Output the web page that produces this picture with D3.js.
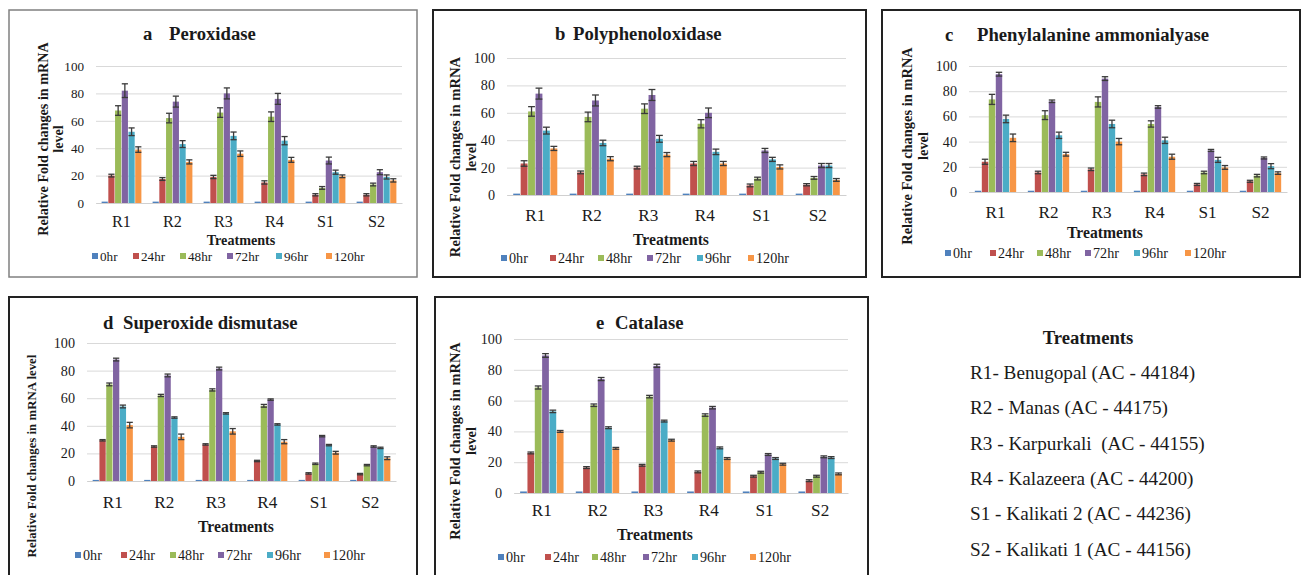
<!DOCTYPE html>
<html>
<head>
<meta charset="utf-8">
<script src="https://cdn.jsdelivr.net/npm/d3@7"></script>
<style>
  body { margin: 0; background: #fff; }
  svg text { font-family: "Liberation Serif", "Times New Roman", Tinos, "Noto Serif", "DejaVu Serif", serif; fill: #1a1a1a; }
</style>
</head>
<body>
<div id="chart"></div>
<script>
var svgWidth = 1307;
var svgHeight = 575;
var serif = "'Liberation Serif', 'Times New Roman', Tinos, 'Noto Serif', 'DejaVu Serif', serif";

var hours = ["0hr", "24hr", "48hr", "72hr", "96hr", "120hr"];
var treatments = ["R1", "R2", "R3", "R4", "S1", "S2"];
var yTicks = [0, 20, 40, 60, 80, 100];
var colors = ["#4F81BD", "#C0504D", "#9BBB59", "#8064A2", "#4BACC6", "#F79646"];

// values: one row per hour (0hr..120hr), columns R1..S2
var peroxidase = [
    [1, 1, 1, 1, 1, 1],
    [20, 17.5, 19, 15, 6, 6],
    [67.5, 62, 66, 63, 11, 13.5],
    [82, 74, 80, 76, 31, 22.5],
    [52, 43, 49, 45.5, 22.5, 19],
    [39, 30, 36, 31.5, 19.5, 16.5]
];
var peroxidaseErr = [
    [0, 0, 0, 0, 0, 0],
    [1, 1, 1.2, 1.2, 0.8, 0.8],
    [3.5, 3.5, 3.5, 3.5, 1, 1],
    [5, 4, 4, 4, 2.5, 1.8],
    [2.8, 2.5, 2.8, 3, 1.5, 1.5],
    [2, 1.5, 2, 1.8, 1, 1.2]
];

var polyphenoloxidase = [
    [1, 1, 1, 1, 1, 1],
    [23, 16.5, 20, 23, 7, 7.5],
    [61, 57, 63, 52, 12, 12.5],
    [74, 69, 73, 60, 32.5, 21.5],
    [47, 38, 41, 31.5, 26, 21.5],
    [34, 26.5, 29.5, 23, 20.5, 11]
];
var polyphenoloxidaseErr = [
    [0, 0, 0, 0, 0, 0],
    [2, 1, 1, 1.5, 1, 0.8],
    [3.5, 3.5, 3.5, 3, 1, 1],
    [4, 4, 4, 3.5, 1.5, 1.5],
    [2.5, 2, 2.5, 2, 1.5, 1.5],
    [1.5, 1.5, 1.5, 1.5, 1.5, 1]
];

var phenylalanine = [
    [1, 1, 1, 1, 1, 1],
    [24, 15.5, 18, 14, 6, 8.5],
    [73.5, 61, 71.5, 54, 15.5, 13],
    [93.5, 72, 90, 67.5, 33, 27],
    [58, 45, 54, 41, 25.5, 20.5],
    [43, 30, 40, 28, 19.5, 15]
];
var phenylalanineErr = [
    [0, 0, 0, 0, 0, 0],
    [2, 1, 1, 1, 0.8, 0.8],
    [4, 3.5, 4, 2.5, 1, 1],
    [1.5, 1, 1.5, 1, 0.8, 0.8],
    [3, 2.5, 3, 2.5, 2, 2],
    [3, 1.5, 2.5, 2, 1.5, 1]
];

var superoxide = [
    [0.8, 0.8, 0.8, 0.8, 0.8, 0.8],
    [29.5, 25, 26.5, 14.5, 5.5, 5],
    [70, 62, 66, 54.5, 12.5, 11.5],
    [88, 76.5, 81.5, 59, 32.5, 25],
    [54, 46, 49, 41, 26, 24],
    [40.5, 32, 36, 28.5, 20.5, 16.5]
];
var superoxideErr = [
    [0, 0, 0, 0, 0, 0],
    [0.5, 0.5, 0.5, 0.5, 0.5, 0.5],
    [1, 0.8, 0.8, 1, 0.5, 0.5],
    [1, 1, 1, 0.5, 0.5, 0.5],
    [1, 0.5, 0.5, 0.5, 0.5, 0.5],
    [2, 2, 2, 1.5, 1, 1]
];

var catalase = [
    [1, 1, 1, 1, 1, 1],
    [26, 16.5, 18, 13.7, 10.9, 8],
    [68.5, 57, 62.6, 50.6, 13.5, 10.9],
    [89.3, 74, 82.6, 55.4, 25, 23.5],
    [53, 42.4, 46.7, 29.3, 22.4, 23],
    [40, 29, 34.3, 22.4, 18.7, 12.4]
];
var catalaseErr = [
    [0, 0, 0, 0, 0, 0],
    [0.6, 0.6, 0.6, 0.6, 0.6, 0.6],
    [1, 0.8, 0.8, 0.8, 0.6, 0.6],
    [1.2, 1, 1, 0.8, 0.6, 0.6],
    [0.8, 0.6, 0.6, 0.6, 0.6, 0.6],
    [0.6, 0.6, 0.6, 0.6, 0.6, 0.6]
];

var treatmentNames = [
    "R1- Benugopal (AC - 44184)",
    "R2 - Manas (AC - 44175)",
    "R3 - Karpurkali\u00a0 (AC - 44155)",
    "R4 - Kalazeera (AC - 44200)",
    "S1 - Kalikati 2 (AC - 44236)",
    "S2 - Kalikati 1 (AC - 44156)"
];

var panels = [
    { letter: "a", name: "Peroxidase", values: peroxidase, errors: peroxidaseErr,
      box: [9, 10, 417, 277], boxColor: "#808080", boxWidth: 1.5,
      letterX: 143, nameX: 169, titleY: 33,
      x0: 96, x1: 402, yZero: 203, yTop: 66,
      yTickSize: 13, xTickSize: 16, xLabelY: 222,
      treatY: 240, treatX: 241, treatSize: 14,
      legendY: 256, legendX: [95, 136, 183, 230, 279, 329], legendSize: 13,
      yTitle: ["Relative Fold changes in mRNA", "level"], yTitleX: [43, 58], yTitleY: 139, yTitleSize: 14 },
    { letter: "b", name: "Polyphenoloxidase", values: polyphenoloxidase, errors: polyphenoloxidaseErr,
      box: [433, 10, 866, 277], boxColor: "#222", boxWidth: 2,
      letterX: 555, nameX: 573, titleY: 33,
      x0: 507, x1: 846, yZero: 195, yTop: 58,
      yTickSize: 14, xTickSize: 17, xLabelY: 215,
      treatY: 240, treatX: 671, treatSize: 15.5,
      legendY: 258, legendX: [504, 553, 601, 650, 700, 751], legendSize: 14,
      yTitle: ["Relative Fold changes in mRNA", "level"], yTitleX: [455, 471], yTitleY: 157, yTitleSize: 14.5 },
    { letter: "c", name: "Phenylalanine ammonialyase", values: phenylalanine, errors: phenylalanineErr,
      box: [882, 10, 1300, 277], boxColor: "#222", boxWidth: 2,
      letterX: 945, nameX: 977, titleY: 34,
      x0: 969, x1: 1287, yZero: 192, yTop: 66,
      yTickSize: 14, xTickSize: 17, xLabelY: 212,
      treatY: 233, treatX: 1105, treatSize: 15.5,
      legendY: 253, legendX: [948, 993, 1040, 1088, 1137, 1188], legendSize: 14,
      yTitle: ["Relative Fold changes in mRNA", "level"], yTitleX: [907, 923], yTitleY: 146, yTitleSize: 14.3 },
    { letter: "d", name: "Superoxide dismutase", values: superoxide, errors: superoxideErr,
      box: [9, 297, 417, 585], boxColor: "#222", boxWidth: 2,
      letterX: 103, nameX: 123, titleY: 322,
      x0: 87, x1: 396, yZero: 481, yTop: 343,
      yTickSize: 14, xTickSize: 17, xLabelY: 502,
      treatY: 527, treatX: 236, treatSize: 15.5,
      legendY: 555, legendX: [78, 124, 173, 221, 270, 327], legendSize: 14,
      yTitle: ["Relative Fold changes in mRNA level"], yTitleX: [31], yTitleY: 456, yTitleSize: 12.7 },
    { letter: "e", name: "Catalase", values: catalase, errors: catalaseErr,
      box: [435, 297, 868, 585], boxColor: "#222", boxWidth: 2,
      letterX: 596, nameX: 615, titleY: 322,
      x0: 514, x1: 848, yZero: 493, yTop: 339,
      yTickSize: 14, xTickSize: 17, xLabelY: 510,
      treatY: 535, treatX: 655, treatSize: 15.5,
      legendY: 557, legendX: [501, 548, 595, 646, 695, 753], legendSize: 14,
      yTitle: ["Relative Fold changes in mRNA", "level"], yTitleX: [455, 471], yTitleY: 441, yTitleSize: 14.3 }
];

var svg = d3.select("#chart")
    .append("svg")
    .attr("width", svgWidth)
    .attr("height", svgHeight);

// whatever serif face is installed, scale type so widths match Times metrics
var probe = svg.append("text")
    .style("font-size", "100px").style("font-weight", "bold")
    .text("Peroxidase");
var fs = 470 / probe.node().getComputedTextLength();   // Times bold "Peroxidase" = 4.70em
probe.remove();
fs = Math.min(1.05, Math.max(0.75, fs));
function px(s) { return (s * fs) + "px"; }

panels.forEach(function(p) {
    var g = svg.append("g");

    // frame
    g.append("rect")
        .attr("x", p.box[0]).attr("y", p.box[1])
        .attr("width", p.box[2] - p.box[0]).attr("height", p.box[3] - p.box[1])
        .attr("fill", "none")
        .attr("stroke", p.boxColor)
        .attr("stroke-width", p.boxWidth);

    // title
    g.append("text")
        .attr("x", p.letterX).attr("y", p.titleY)
        .attr("dy", "0.35em")
        .style("font-size", px(18.5)).style("font-weight", "bold")
        .text(p.letter);
    g.append("text")
        .attr("x", p.nameX).attr("y", p.titleY)
        .attr("dy", "0.35em")
        .style("font-size", px(18.5)).style("font-weight", "bold")
        .text(p.name);

    var x = d3.scaleBand()
        .domain(treatments)
        .range([p.x0, p.x1])
        .paddingInner(0.22)
        .paddingOuter(0.11);
    var xInner = d3.scaleBand()
        .domain(hours)
        .range([0, x.bandwidth()])
        .paddingInner(0.08);
    var y = d3.scaleLinear()
        .domain([0, 100])
        .range([p.yZero, p.yTop]);

    // y axis with gridlines
    var yAxis = g.append("g")
        .attr("transform", "translate(" + p.x0 + ",0)")
        .call(d3.axisLeft(y).tickValues(yTicks).tickSizeInner(-(p.x1 - p.x0)).tickSizeOuter(0).tickPadding(12));
    yAxis.attr("font-family", null);
    yAxis.select(".domain").remove();
    yAxis.selectAll("line").attr("stroke", "#d9d9d9").attr("stroke-width", 1);
    yAxis.selectAll("text")
        .style("font-size", px(p.yTickSize))
        .style("font-family", serif)
        .attr("fill", "#1a1a1a");

    // x axis labels
    var xAxis = g.append("g")
        .attr("transform", "translate(0," + p.yZero + ")")
        .call(d3.axisBottom(x).tickSize(0).tickPadding(p.xLabelY - p.yZero - 0.38 * p.xTickSize));
    xAxis.attr("font-family", null);
    xAxis.select(".domain").attr("stroke", "#d0d0d0");
    xAxis.selectAll("text")
        .style("font-size", px(p.xTickSize))
        .style("font-family", serif)
        .attr("fill", "#1a1a1a");

    // bars
    p.values.forEach(function(row, si) {
        var series = treatments.map(function(t, ci) {
            return { cat: t, v: row[ci], e: p.errors[si][ci] };
        });
        var bars = g.append("g");
        bars.selectAll("rect")
            .data(series)
            .enter()
            .append("rect")
            .attr("x", d => x(d.cat) + xInner(hours[si]))
            .attr("y", d => y(d.v))
            .attr("width", xInner.bandwidth())
            .attr("height", d => y(0) - y(d.v))
            .attr("fill", colors[si]);

        // error bars
        var errs = series.filter(d => d.e > 0);
        var eg = bars.selectAll("g.err")
            .data(errs)
            .enter()
            .append("g")
            .attr("class", "err")
            .attr("stroke", "#3a3a3a")
            .attr("stroke-width", 1.3);
        eg.append("line")
            .attr("x1", d => x(d.cat) + xInner(hours[si]) + xInner.bandwidth() / 2)
            .attr("x2", d => x(d.cat) + xInner(hours[si]) + xInner.bandwidth() / 2)
            .attr("y1", d => y(d.v + d.e))
            .attr("y2", d => y(d.v - d.e));
        eg.append("line")
            .attr("x1", d => x(d.cat) + xInner(hours[si]))
            .attr("x2", d => x(d.cat) + xInner(hours[si]) + xInner.bandwidth())
            .attr("y1", d => y(d.v + d.e))
            .attr("y2", d => y(d.v + d.e));
        eg.append("line")
            .attr("x1", d => x(d.cat) + xInner(hours[si]))
            .attr("x2", d => x(d.cat) + xInner(hours[si]) + xInner.bandwidth())
            .attr("y1", d => y(d.v - d.e))
            .attr("y2", d => y(d.v - d.e));
    });

    // x title
    g.append("text")
        .attr("x", p.treatX).attr("y", p.treatY)
        .attr("dy", "0.35em")
        .attr("text-anchor", "middle")
        .style("font-size", px(p.treatSize)).style("font-weight", "bold")
        .text("Treatments");

    // y title
    p.yTitle.forEach(function(line, i) {
        g.append("text")
            .attr("transform", "translate(" + p.yTitleX[i] + "," + p.yTitleY + ") rotate(-90)")
            .attr("dy", "0.35em")
            .attr("text-anchor", "middle")
            .style("font-size", px(p.yTitleSize)).style("font-weight", "bold")
            .text(line);
    });

    // legend
    var leg = g.selectAll("g.legend")
        .data(hours)
        .enter()
        .append("g")
        .attr("class", "legend")
        .attr("transform", (d, i) => "translate(" + p.legendX[i] + "," + p.legendY + ")");
    leg.append("rect")
        .attr("x", -3).attr("y", -3)
        .attr("width", 6).attr("height", 6)
        .attr("fill", (d, i) => colors[i]);
    leg.append("text")
        .attr("x", 5).attr("y", 0)
        .attr("dy", "0.35em")
        .style("font-size", px(p.legendSize))
        .text(d => d);
});

// treatment key
svg.append("text")
    .attr("x", 1088).attr("y", 337)
    .attr("dy", "0.35em")
    .attr("text-anchor", "middle")
    .style("font-size", px(18.5)).style("font-weight", "bold")
    .text("Treatments");

var keyY = d3.scalePoint()
    .domain(treatmentNames)
    .range([372, 549]);

svg.selectAll("text.key")
    .data(treatmentNames)
    .enter()
    .append("text")
    .attr("class", "key")
    .attr("x", 970)
    .attr("y", d => keyY(d))
    .attr("dy", "0.35em")
    .style("font-size", px(19))
    .text(d => d);
</script>
</body>
</html>
